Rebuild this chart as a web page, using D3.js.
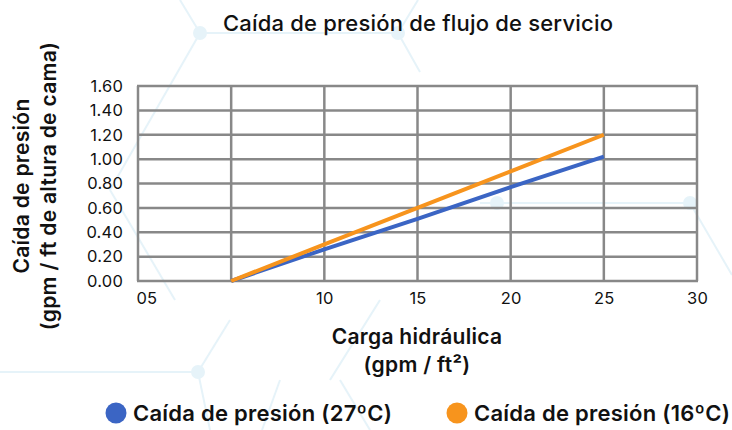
<!DOCTYPE html>
<html>
<head>
<meta charset="UTF-8">
<script src="https://cdn.jsdelivr.net/npm/d3@7"></script>
<style>
  body { margin: 0; background: #fff; }
  svg { display: block; font-family: Inter, "Liberation Sans", Arial, sans-serif; }
</style>
</head>
<body>
<svg></svg>
<script>
const width = 732, height = 430;
const margin = {top: 86, right: 35, bottom: 149, left: 138};

// data
const carga = [5, 10, 15, 20, 25];
const caida27 = [0, 0.26, 0.51, 0.77, 1.02];
const caida16 = [0, 0.30, 0.60, 0.90, 1.20];
const xTicks = [0, 5, 10, 15, 20, 25, 30];
const xTickLabels = ["05", "", "10", "15", "20", "25", "30"];
const yTicks = [0, 0.2, 0.4, 0.6, 0.8, 1.0, 1.2, 1.4, 1.6];
const seriesNames = ["Caída de presión (27ºC)", "Caída de presión (16ºC)"];
const colors = ["#3b65c4", "#f7941d"];

const svg = d3.select("svg")
  .attr("width", width)
  .attr("height", height);

// faint hexagon decoration in the background
const deco = svg.append("g")
  .attr("stroke", "#e6f3f9")
  .attr("stroke-width", 2)
  .attr("fill", "none");
const decoLines = [
  [[180, 0], [200, 33]], [[200, 33], [398, 33]], [[398, 33], [418, 0]],
  [[200, 33], [110, 190]], [[110, 190], [175, 300]],
  [[398, 33], [420, 72]],
  [[480, 203], [690, 203]], [[690, 203], [732, 275]],
  [[0, 372], [198, 372]], [[198, 372], [230, 320]], [[198, 372], [210, 430]],
  [[380, 300], [330, 380]], [[280, 380], [262, 430]], [[340, 380], [370, 430]]
];
decoLines.forEach(l => deco.append("path").attr("d", d3.line()(l)));
svg.append("g").attr("fill", "#e6f3f9")
  .selectAll("circle")
  .data([[200, 33], [398, 33], [497, 203], [690, 203], [198, 372]])
  .join("circle")
  .attr("cx", d => d[0]).attr("cy", d => d[1]).attr("r", 7);

const x = d3.scaleLinear()
  .domain([0, 30])
  .range([margin.left, width - margin.right]);

const y = d3.scaleLinear()
  .domain([0, 1.6])
  .range([height - margin.bottom, margin.top]);

// grid
const grid = svg.append("g")
  .attr("stroke", "#888")
  .attr("stroke-width", 2.5);
grid.selectAll(".h")
  .data(yTicks)
  .join("line")
  .attr("x1", x(0) - 1).attr("x2", x(30) + 1)
  .attr("y1", d => y(d)).attr("y2", d => y(d));
grid.selectAll(".v")
  .data(xTicks)
  .join("line")
  .attr("x1", d => x(d)).attr("x2", d => x(d))
  .attr("y1", y(0)).attr("y2", y(1.6));

// axes (labels only)
svg.append("g")
  .attr("transform", `translate(${margin.left},0)`)
  .call(d3.axisLeft(y).tickValues(yTicks).tickFormat(d3.format(".2f")).tickSize(0).tickPadding(15))
  .call(g => g.select(".domain").remove())
  .call(g => g.selectAll("text")
    .attr("font-size", 16.5)
    .attr("letter-spacing", 0.2)
    .attr("fill", "#111")
    .attr("font-family", "Inter, sans-serif"));

svg.append("g")
  .attr("transform", `translate(0,${height - margin.bottom})`)
  .call(d3.axisBottom(x).tickValues(xTicks).tickFormat((d, i) => xTickLabels[i]).tickSize(0).tickPadding(11))
  .call(g => g.select(".domain").remove())
  .call(g => g.selectAll("text")
    .attr("font-size", 16.5)
    .attr("letter-spacing", 0.2)
    .attr("fill", "#111")
    .attr("font-family", "Inter, sans-serif"))
  .call(g => g.selectAll(".tick").filter(d => d === 0).select("text")
    .attr("text-anchor", "start").attr("x", -2));

// lines
const line = d3.line()
  .x((d, i) => x(carga[i]))
  .y(d => y(d));
[caida27, caida16].forEach((s, k) => {
  svg.append("path")
    .datum(s)
    .attr("fill", "none")
    .attr("stroke", colors[k])
    .attr("stroke-width", 4)
    .attr("d", line);
});

// title
svg.append("text")
  .attr("x", 418).attr("y", 31)
  .attr("text-anchor", "middle")
  .attr("font-size", 22)
  .attr("font-weight", 500)
  .attr("letter-spacing", 0.2)
  .attr("fill", "#111")
  .text("Caída de presión de flujo de servicio");

// y label
const yl = svg.append("text")
  .attr("transform", "translate(0,186) rotate(-90)")
  .attr("text-anchor", "middle")
  .attr("font-size", 21)
  .attr("font-weight", 600)
  .attr("letter-spacing", 0.3)
  .attr("fill", "#111");
yl.append("tspan").attr("x", 0).attr("y", 29).text("Caída de presión");
yl.append("tspan").attr("x", 0).attr("y", 56).text("(gpm / ft de altura de cama)");

// x label
const xl = svg.append("text")
  .attr("text-anchor", "middle")
  .attr("font-size", 21)
  .attr("font-weight", 600)
  .attr("letter-spacing", 0.3)
  .attr("fill", "#111");
xl.append("tspan").attr("x", 417).attr("y", 344).text("Carga hidráulica");
xl.append("tspan").attr("x", 417).attr("y", 372).text("(gpm / ft²)");

// legend
const legendX = [116, 457];
const lg = svg.append("g");
seriesNames.forEach((name, i) => {
  lg.append("circle")
    .attr("cx", legendX[i]).attr("cy", 413).attr("r", 10.5)
    .attr("fill", colors[i]);
  lg.append("text")
    .attr("x", legendX[i] + 17).attr("y", 421)
    .attr("font-size", 22)
    .attr("font-weight", 600)
    .attr("letter-spacing", 0.25)
    .attr("fill", "#111")
    .text(name);
});
</script>
</body>
</html>
